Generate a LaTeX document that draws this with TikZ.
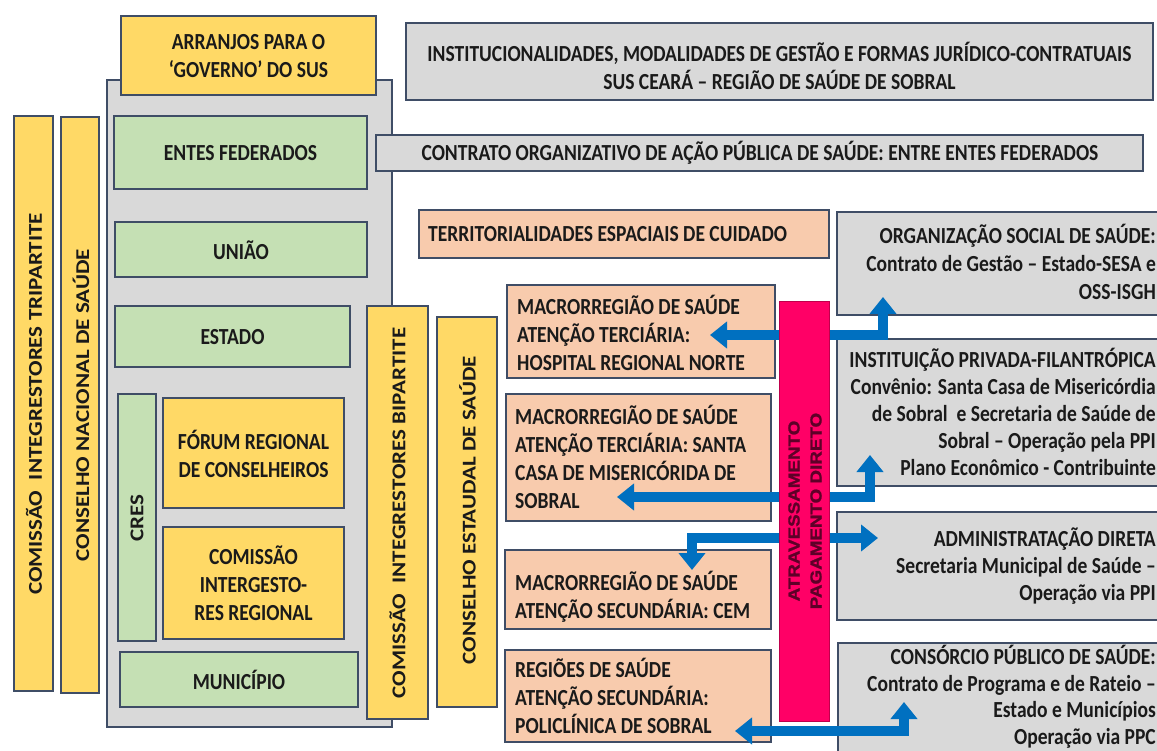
\documentclass[tikz,border=0pt]{standalone}
\usepackage{fontspec}
\usepackage{graphicx}
\setmainfont[FakeStretch=0.85]{Carlito}
\newfontfamily\vfont{Carlito}
\newfontfamily\pfont[FakeBold=1.2]{Liberation Sans}
\usetikzlibrary{arrows.meta}
\definecolor{yel}{HTML}{FFD966}
\definecolor{grn}{HTML}{C5E0B4}
\definecolor{gry}{HTML}{D9D9D9}
\definecolor{pch}{HTML}{F8CBAD}
\definecolor{pnk}{HTML}{FF0066}
\definecolor{blu}{HTML}{0070C0}
\definecolor{edge}{HTML}{3F4D66}
\definecolor{ink}{HTML}{1A1A1A}
\definecolor{pinktxt}{HTML}{5E0028}
\tikzset{
  box/.style={draw=edge, line width=1.4pt, inner sep=0pt, outer sep=0pt},
  ybox/.style={box, fill=yel},
  gbox/.style={box, fill=grn},
  grbox/.style={box, fill=gry},
  pbox/.style={box, fill=pch},
  pinkbox/.style={draw=pnk!75!black, line width=0.8pt, fill=pnk, inner sep=0pt, outer sep=0pt},
  txt/.style={inner sep=0pt, font=\fontsize{23}{28}\selectfont\bfseries, text=ink},
  rtxt/.style={txt, anchor=east, align=right},
  ltxt/.style={txt, anchor=west, align=left},
  vtxt/.style={inner sep=0pt, rotate=90, font=\vfont\fontsize{23}{28}\selectfont\bfseries, text=ink},
  ptxt/.style={inner sep=0pt, rotate=90, font=\pfont\fontsize{18.8}{22}\selectfont\bfseries, text=pinktxt},
  tipA/.tip={Triangle[width=26pt,length=17pt]},
  arrow2/.style={draw=blu, line width=10pt, line join=miter, tipA-tipA},
}
\newcommand{\bx}[6]{\node[#2, anchor=north west, minimum width={(#5)-(#3)}, minimum height={(#6)-(#4)}] (#1) at (#3,#4) {};}
\begin{document}
\begin{tikzpicture}[x=1pt,y=-1pt]
\fill[white] (0,0) rectangle (1157,751);
\useasboundingbox (0,0) rectangle (1157,751);

% left block
\bx{gov}{grbox}{107}{80}{392}{727}
\bx{arranjos}{ybox}{121}{16}{376}{95}
\node[txt, align=center] (tarr) at (248.5,56) {ARRANJOS PARA O\\‘GOVERNO’ DO SUS};
\bx{cit}{ybox}{14}{116}{53}{691}
\node[vtxt] (tcit) at (34,404) {\scalebox{1}[0.85]{COMISSÃO\ \ INTEGRESTORES TRIPARTITE}};
\bx{cns}{ybox}{61}{117}{99}{693}
\node[vtxt] (tcns) at (81,405) {\scalebox{1}[0.85]{CONSELHO NACIONAL DE SAÚDE}};
\bx{entes}{gbox}{114}{116}{367}{189}
\node[txt] (tentes) at (240.5,153) {ENTES FEDERADOS};
\bx{uniao}{gbox}{115}{222}{367}{277}
\node[txt] (tuniao) at (241,250) {UNIÃO};
\bx{estado}{gbox}{115}{306}{350}{367}
\node[txt] (testado) at (232.5,337) {ESTADO};
\bx{cres}{gbox}{118}{394}{156}{641}
\node[vtxt] (tcres) at (137,518) {\scalebox{1}[0.85]{CRES}};
\bx{forum}{ybox}{163}{398}{344}{508}
\node[txt, align=center] (tforum) at (253.5,454) {FÓRUM REGIONAL\\DE CONSELHEIROS};
\bx{cir}{ybox}{163}{527}{344}{639}
\node[txt, align=center] (tcir) at (253.5,583) {COMISSÃO\\INTERGESTO-\\RES REGIONAL};
\bx{mun}{gbox}{120}{652}{358}{707}
\node[txt] (tmun) at (239,680) {MUNICÍPIO};
\bx{cib}{ybox}{367}{306}{428}{719}
\node[vtxt] (tcib) at (397.5,513) {\scalebox{1}[0.85]{COMISSÃO\ \ INTEGRESTORES BIPARTITE}};
\bx{ces}{ybox}{437}{317}{497}{707}
\node[vtxt] (tces) at (467.5,510) {\scalebox{1}[0.85]{CONSELHO ESTAUDAL DE SAÚDE}};

% top boxes
\bx{inst}{grbox}{406}{23}{1153}{100}
\node[txt, align=center] (tinst) at (779.5,66) {INSTITUCIONALIDADES, MODALIDADES DE GESTÃO E FORMAS JURÍDICO-CONTRATUAIS\\SUS CEARÁ – REGIÃO DE SAÚDE DE SOBRAL};
\bx{coap}{grbox}{376}{135}{1143}{171}
\node[txt] (tcoap) at (760,153) {CONTRATO ORGANIZATIVO DE AÇÃO PÚBLICA DE SAÚDE: ENTRE ENTES FEDERADOS};
\bx{terr}{pbox}{419}{210}{829}{258}
\node[ltxt] (tterr) at (428,234) {TERRITORIALIDADES ESPACIAIS DE CUIDADO};

% peach boxes
\bx{macA}{pbox}{507}{285}{775}{378}
\node[ltxt] (tmacA) at (517,333) {MACRORREGIÃO DE SAÚDE\\ATENÇÃO TERCIÁRIA:\\HOSPITAL REGIONAL NORTE};
\bx{macB}{pbox}{506}{394}{771}{521}
\node[ltxt] (tmacB) at (515,457) {MACRORREGIÃO DE SAÚDE\\ATENÇÃO TERCIÁRIA: SANTA\\CASA DE MISERICÓRIDA DE\\SOBRAL};
\bx{macC}{pbox}{505}{550}{771}{629}
\node[ltxt] (tmacC) at (515,596.5) {MACRORREGIÃO DE SAÚDE\\ATENÇÃO SECUNDÁRIA: CEM};
\bx{reg}{pbox}{505}{650}{771}{742}
\node[ltxt] (treg) at (515,695.5) {REGIÕES DE SAÚDE\\ATENÇÃO SECUNDÁRIA:\\POLICLÍNICA DE SOBRAL};

% right gray boxes
\bx{oss}{grbox}{837}{212}{1175}{315}
\node[rtxt] (toss) at (1156,262) {ORGANIZAÇÃO SOCIAL DE SAÚDE:\\Contrato de Gestão – Estado-SESA e\\OSS-ISGH};
\bx{fil}{grbox}{837}{339}{1175}{486}
\node[rtxt, font=\fontsize{23}{27}\selectfont\bfseries] (tfil) at (1156,412) {INSTITUIÇÃO PRIVADA-FILANTRÓPICA\\Convênio: Santa Casa de Misericórdia\\de Sobral~ e Secretaria de Saúde de\\Sobral – Operação pela PPI\\Plano Econômico - Contribuinte};
\bx{adm}{grbox}{837}{512}{1175}{620}
\node[rtxt, font=\fontsize{23}{27}\selectfont\bfseries] (tadm) at (1156,566.5) {ADMINISTRATAÇÃO DIRETA\\Secretaria Municipal de Saúde –\\Operação via PPI};
\bx{cpub}{grbox}{838}{643}{1175}{770}
\node[rtxt, font=\fontsize{23}{26.5}\selectfont\bfseries] (tcpub) at (1156,697) {CONSÓRCIO PÚBLICO DE SAÚDE:\\Contrato de Programa e de Rateio –\\Estado e Municípios\\Operação via PPC};

% arrows
\coordinate (a1s) at (883,297); \coordinate (a1k) at (883,335); \coordinate (a1e) at (710,335);
\draw[arrow2] (a1s) -- (a1k) -- (a1e);
\coordinate (a2s) at (870,455); \coordinate (a2k) at (870,497); \coordinate (a2e) at (617,497);
\draw[arrow2] (a2s) -- (a2k) -- (a2e);
\coordinate (a3s) at (692,570); \coordinate (a3k) at (692,538); \coordinate (a3e) at (878,538);
\draw[arrow2] (a3s) -- (a3k) -- (a3e);
\coordinate (a4s) at (735,731); \coordinate (a4k) at (904,731); \coordinate (a4e) at (904,702);
\draw[arrow2] (a4s) -- (a4k) -- (a4e);

% pink bar
\bx{pink}{pinkbox}{779}{301}{829}{721}
\node[ptxt] (tpA) at (794,511) {\scalebox{1}[0.85]{ATRAVESSAMENTO}};
\node[ptxt] (tpB) at (816,511) {\scalebox{1}[0.85]{PAGAMENTO DIRETO}};
\end{tikzpicture}
\end{document}
